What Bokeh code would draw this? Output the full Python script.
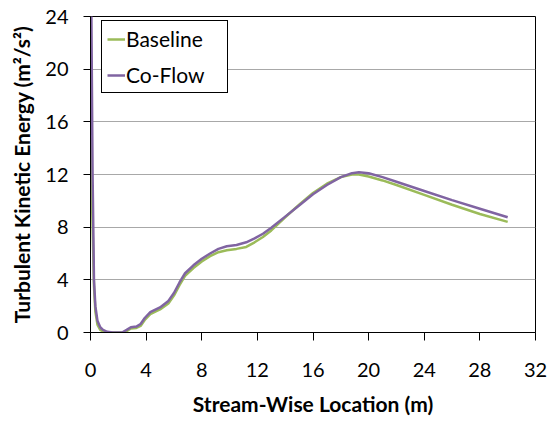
from bokeh.plotting import figure
from bokeh.models import Range1d, FixedTicker, Legend, LegendItem
from bokeh.embed import file_html
from bokeh.resources import INLINE

x = [0.0, 0.05, 0.15, 0.25, 0.35, 0.5, 0.7, 0.9, 1.2, 1.6, 2.0, 2.3, 2.6, 2.9,
     3.3, 3.6, 3.9, 4.3, 4.7, 5.0, 5.6, 6.0, 6.4, 6.8, 7.4, 8.0, 8.6, 9.2, 9.8,
     10.5, 11.2, 11.8, 12.4, 13.0, 14.0, 15.0, 16.0, 17.0, 18.0, 18.8, 19.3,
     20.0, 21.0, 22.0, 24.0, 26.0, 28.0, 30.0]
baseline = [14.8, 13.0, 8.0, 3.5, 1.6, 0.6, 0.2, 0.08, 0.0, 0.0, 0.0, 0.0, 0.1, 0.3,
            0.35, 0.5, 0.95, 1.4, 1.6, 1.75, 2.2, 2.8, 3.6, 4.3, 4.9, 5.4, 5.8, 6.1, 6.25,
            6.35, 6.5, 6.85, 7.25, 7.75, 8.75, 9.7, 10.6, 11.3, 11.8, 12.0, 12.0,
            11.85, 11.55, 11.2, 10.45, 9.7, 9.0, 8.4]
coflow = [28.0, 26.0, 12.0, 4.0, 2.0, 0.9, 0.4, 0.2, 0.05, 0.0, 0.0, 0.02, 0.2, 0.4,
          0.45, 0.65, 1.1, 1.55, 1.75, 1.9, 2.4, 3.0, 3.8, 4.5, 5.1, 5.6, 6.0, 6.35, 6.55,
          6.65, 6.85, 7.15, 7.5, 7.95, 8.8, 9.65, 10.5, 11.2, 11.8, 12.1, 12.17,
          12.1, 11.8, 11.45, 10.75, 10.05, 9.4, 8.75]
x_ticks = [0, 4, 8, 12, 16, 20, 24, 28, 32]
y_ticks = [0, 4, 8, 12, 16, 20, 24]

FONT = "Lato"

p = figure(width=547, height=421, output_backend="svg", toolbar_location=None,
           x_range=Range1d(0, 32), y_range=Range1d(0, 24),
           min_border_left=90, min_border_right=12, min_border_top=16,
           min_border_bottom=89)
p.outline_line_color = "black"
p.outline_line_width = 1

r1 = p.line(x, baseline, line_color="#9BBB59", line_width=2.5)
r2 = p.line(x, coflow, line_color="#8064A2", line_width=2.5)

p.xgrid.grid_line_color = None
p.ygrid.grid_line_color = "#a8a8a8"
p.ygrid.grid_line_width = 1

p.xaxis.ticker = FixedTicker(ticks=x_ticks)
p.yaxis.ticker = FixedTicker(ticks=y_ticks)
for ax in (p.xaxis[0], p.yaxis[0]):
    ax.axis_line_color = "black"
    ax.axis_line_width = 1
    ax.major_tick_line_color = "black"
    ax.major_tick_in = 0
    ax.minor_tick_line_color = None
    ax.major_label_text_font = FONT
    ax.major_label_text_font_size = "20px"
    ax.major_label_text_color = "black"
    ax.axis_label_text_font = FONT
    ax.axis_label_text_font_size = "21px"
    ax.axis_label_text_font_style = "bold"
    ax.axis_label_text_color = "black"

p.xaxis.major_tick_out = 8
p.yaxis.major_tick_out = 7
p.xaxis.axis_label = "Stream-Wise Location (m)"
p.yaxis.axis_label = "Turbulent Kinetic Energy (m\u00b2/s\u00b2)"
p.xaxis.major_label_standoff = 22
p.xaxis.axis_label_standoff = 11
p.yaxis.major_label_standoff = 15
p.yaxis.axis_label_standoff = 8

legend = Legend(items=[LegendItem(label="Baseline", renderers=[r1]),
                       LegendItem(label="Co-Flow", renderers=[r2])],
                location=(11, 239))
legend.margin = 0
legend.border_line_color = "black"
legend.border_line_width = 1
legend.border_line_alpha = 1
legend.background_fill_color = "white"
legend.background_fill_alpha = 1
legend.label_text_font = FONT
legend.label_text_font_size = "21px"
legend.label_text_color = "black"
legend.padding = 5
legend.spacing = 11
legend.glyph_width = 18
legend.glyph_height = 24
legend.label_height = 24
legend.label_width = 96
legend.label_standoff = 1
p.add_layout(legend)

open("out.html", "w").write(file_html(p, INLINE))
